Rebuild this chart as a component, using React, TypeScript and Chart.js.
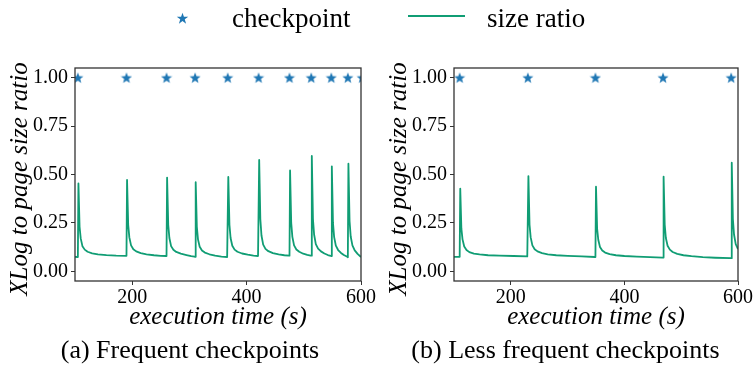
import React, { useEffect, useRef } from 'react';
import { Chart, registerables } from 'chart.js';

Chart.register(...registerables);

const X_MIN = 100;
const X_MAX = 600;
const Y_MIN = -0.05;
const Y_MAX = 1.05;
const X_TICKS = [200, 400, 600];
const Y_TICKS = [0, 0.25, 0.5, 0.75, 1.0];

const X_TITLE = 'execution time (s)';
const Y_TITLE = 'XLog to page size ratio';
const LEGEND_CHECKPOINT = 'checkpoint';
const LEGEND_RATIO = 'size ratio';
const CAPTION_A = '(a) Frequent checkpoints';
const CAPTION_B = '(b) Less frequent checkpoints';

const CHECKPOINT_Y = 1.0;
const CHECKPOINTS_A = [105, 190, 260, 310, 367, 421, 475, 513, 548, 577, 602];
const CHECKPOINTS_B = [110, 230, 349, 468, 588];

const RATIO_A: [number, number][] = [
  [100, 0.075], [104, 0.074], [105, 0.075], [106, 0.454], [108, 0.23], [110, 0.17], [113, 0.13], [117, 0.112], [122, 0.101], [130, 0.093], [140, 0.088], [155, 0.084], [172, 0.081], [189, 0.080],
  [190, 0.080], [191, 0.472], [193, 0.24], [195, 0.175], [198, 0.134], [202, 0.114], [207, 0.103], [215, 0.094], [225, 0.088], [238, 0.083], [250, 0.080], [259, 0.079],
  [260, 0.079], [261, 0.484], [263, 0.24], [265, 0.172], [268, 0.13], [272, 0.111], [277, 0.100], [285, 0.091], [295, 0.084], [303, 0.078], [309, 0.076],
  [310, 0.075], [311, 0.46], [313, 0.23], [315, 0.165], [318, 0.127], [322, 0.108], [327, 0.097], [335, 0.088], [345, 0.081], [356, 0.076], [366, 0.074],
  [367, 0.074], [368, 0.487], [370, 0.24], [372, 0.172], [375, 0.132], [379, 0.112], [384, 0.101], [392, 0.092], [402, 0.086], [412, 0.081], [420, 0.079],
  [421, 0.079], [422, 0.575], [424, 0.27], [426, 0.185], [429, 0.138], [433, 0.116], [438, 0.104], [446, 0.094], [456, 0.087], [466, 0.083], [474, 0.081],
  [475, 0.081], [476, 0.521], [478, 0.25], [480, 0.178], [483, 0.134], [487, 0.113], [492, 0.101], [499, 0.091], [506, 0.085], [512, 0.081],
  [513, 0.081], [514, 0.596], [516, 0.27], [518, 0.19], [521, 0.14], [525, 0.117], [530, 0.103], [536, 0.092], [542, 0.084], [547, 0.080],
  [548, 0.079], [549, 0.542], [551, 0.25], [553, 0.178], [556, 0.133], [560, 0.110], [565, 0.095], [570, 0.084], [576, 0.075],
  [577, 0.073], [578, 0.556], [580, 0.26], [582, 0.18], [585, 0.134], [589, 0.108], [594, 0.090], [600, 0.074],
];

const RATIO_B: [number, number][] = [
  [100, 0.075], [109, 0.075], [110, 0.076], [111, 0.427], [113, 0.22], [115, 0.165], [118, 0.128], [122, 0.110], [127, 0.099], [135, 0.091], [145, 0.087], [160, 0.083], [180, 0.081], [205, 0.079], [229, 0.077],
  [230, 0.077], [231, 0.492], [233, 0.24], [235, 0.175], [238, 0.134], [242, 0.114], [247, 0.103], [255, 0.094], [265, 0.088], [280, 0.083], [300, 0.080], [325, 0.077], [348, 0.074],
  [349, 0.074], [350, 0.437], [352, 0.22], [354, 0.163], [357, 0.126], [361, 0.108], [366, 0.097], [374, 0.089], [385, 0.083], [400, 0.079], [422, 0.076], [445, 0.073], [467, 0.071],
  [468, 0.071], [469, 0.489], [471, 0.24], [473, 0.172], [476, 0.132], [480, 0.112], [485, 0.100], [493, 0.090], [504, 0.083], [518, 0.078], [538, 0.073], [560, 0.070], [587, 0.068],
  [588, 0.068], [589, 0.561], [591, 0.27], [593, 0.19], [596, 0.14], [600, 0.115],
];

const STAR_COLOR = '#1f77b4';
const LINE_COLOR = '#109d74';
const FRAME_COLOR = '#333333';
const SERIF = '"Liberation Serif", "Times New Roman", serif';

function makeStar(size: number): HTMLCanvasElement {
  const c = document.createElement('canvas');
  c.width = size;
  c.height = size;
  const g = c.getContext('2d')!;
  const cx = size / 2;
  const cy = size / 2 + 0.5;
  const R = size / 2 - 0.2;
  const r = R * 0.42;
  g.beginPath();
  for (let i = 0; i < 10; i++) {
    const ang = -Math.PI / 2 + (i * Math.PI) / 5;
    const rad = i % 2 === 0 ? R : r;
    const px = cx + rad * Math.cos(ang);
    const py = cy + rad * Math.sin(ang);
    if (i === 0) g.moveTo(px, py);
    else g.lineTo(px, py);
  }
  g.closePath();
  g.fillStyle = STAR_COLOR;
  g.fill();
  return c;
}

const framePlugin = {
  id: 'frameAndYTitle',
  afterDraw(chart: any) {
    const { ctx, chartArea: a } = chart;
    ctx.save();
    ctx.strokeStyle = FRAME_COLOR;
    ctx.lineWidth = 1.3;
    ctx.strokeRect(a.left, a.top, a.right - a.left, a.bottom - a.top);
    ctx.translate(a.left - 54.5, 179);
    ctx.rotate(-Math.PI / 2);
    ctx.font = `italic 25px ${SERIF}`;
    ctx.fillStyle = '#000';
    ctx.textAlign = 'center';
    ctx.textBaseline = 'middle';
    ctx.fillText(Y_TITLE, 0, 0);
    ctx.restore();
  },
};

function buildConfig(checkpoints: number[], ratio: [number, number][], yAxisWidth: number, padRight: number, star: HTMLCanvasElement): any {
  return {
    type: 'line',
    data: {
      datasets: [
        {
          label: LEGEND_RATIO,
          data: ratio.map(([x, y]) => ({ x, y })),
          borderColor: LINE_COLOR,
          borderWidth: 1.8,
          pointRadius: 0,
          borderJoinStyle: 'round',
          tension: 0,
          clip: 0,
          order: 2,
        },
        {
          label: LEGEND_CHECKPOINT,
          data: checkpoints.map((x) => ({ x, y: CHECKPOINT_Y })),
          showLine: false,
          pointStyle: star,
          pointRadius: 6,
          clip: 0,
          order: 1,
        },
      ],
    },
    options: {
      animation: false,
      responsive: false,
      events: [],
      layout: { padding: { left: 0, right: padRight, top: 68, bottom: 0 } },
      plugins: { legend: { display: false }, tooltip: { enabled: false } },
      scales: {
        x: {
          type: 'linear',
          min: X_MIN,
          max: X_MAX,
          afterBuildTicks: (s: any) => {
            s.ticks = X_TICKS.map((v) => ({ value: v }));
          },
          afterFit: (s: any) => {
            s.height = 85;
          },
          grid: { display: true, drawOnChartArea: false, drawTicks: true, tickLength: 4, color: FRAME_COLOR, lineWidth: 1 },
          border: { display: false },
          ticks: {
            autoSkip: false,
            maxRotation: 0,
            padding: 1,
            color: '#000',
            font: { family: SERIF, size: 20 },
            callback: (v: any) => String(v),
          },
          title: {
            display: true,
            text: X_TITLE,
            color: '#000',
            font: { family: SERIF, size: 25, style: 'italic', lineHeight: 1 },
            padding: { top: 0, bottom: 36 },
          },
        },
        y: {
          type: 'linear',
          min: Y_MIN,
          max: Y_MAX,
          afterBuildTicks: (s: any) => {
            s.ticks = Y_TICKS.map((v) => ({ value: v }));
          },
          afterFit: (s: any) => {
            s.width = yAxisWidth;
          },
          grid: { display: true, drawOnChartArea: false, drawTicks: true, tickLength: 4, color: FRAME_COLOR, lineWidth: 1 },
          border: { display: false },
          ticks: {
            autoSkip: false,
            padding: 3,
            color: '#000',
            font: { family: SERIF, size: 20 },
            callback: (v: any) => Number(v).toFixed(2),
          },
        },
      },
    },
    plugins: [framePlugin],
  };
}

export default function App() {
  const refA = useRef<HTMLCanvasElement>(null);
  const refB = useRef<HTMLCanvasElement>(null);

  useEffect(() => {
    const star = makeStar(12);
    const a = new Chart(refA.current!, buildConfig(CHECKPOINTS_A, RATIO_A, 75, 16, star));
    const b = new Chart(refB.current!, buildConfig(CHECKPOINTS_B, RATIO_B, 77, 13, star));
    return () => {
      a.destroy();
      b.destroy();
    };
  }, []);

  const text: React.CSSProperties = { position: 'absolute', fontFamily: SERIF, color: '#000', whiteSpace: 'nowrap', lineHeight: 1 };

  return (
    <div style={{ position: 'fixed', left: 0, top: 0, width: 754, height: 366, background: '#fff', overflow: 'hidden' }}>
      <canvas ref={refA} width={377} height={366} style={{ position: 'absolute', left: 0, top: 0, width: 377, height: 366 }} />
      <canvas ref={refB} width={377} height={366} style={{ position: 'absolute', left: 377, top: 0, width: 377, height: 366 }} />
      <svg width={13} height={13} style={{ position: 'absolute', left: 176, top: 12 }} viewBox="0 0 12 12">
        <polygon
          points="6,0.6 7.3,4.4 11.3,4.4 8.1,6.8 9.3,10.8 6,8.4 2.7,10.8 3.9,6.8 0.7,4.4 4.7,4.4"
          fill={STAR_COLOR}
        />
      </svg>
      <div style={{ ...text, left: 232, top: 5, fontSize: 27 }}>{LEGEND_CHECKPOINT}</div>
      <div style={{ position: 'absolute', left: 408, top: 15, width: 57, height: 2, background: LINE_COLOR }} />
      <div style={{ ...text, left: 487, top: 5, fontSize: 27 }}>{LEGEND_RATIO}</div>
      <div style={{ ...text, left: 0, width: 380, textAlign: 'center', top: 337, fontSize: 26 }}>{CAPTION_A}</div>
      <div style={{ ...text, left: 377, width: 377, textAlign: 'center', top: 337, fontSize: 26 }}>{CAPTION_B}</div>
    </div>
  );
}
